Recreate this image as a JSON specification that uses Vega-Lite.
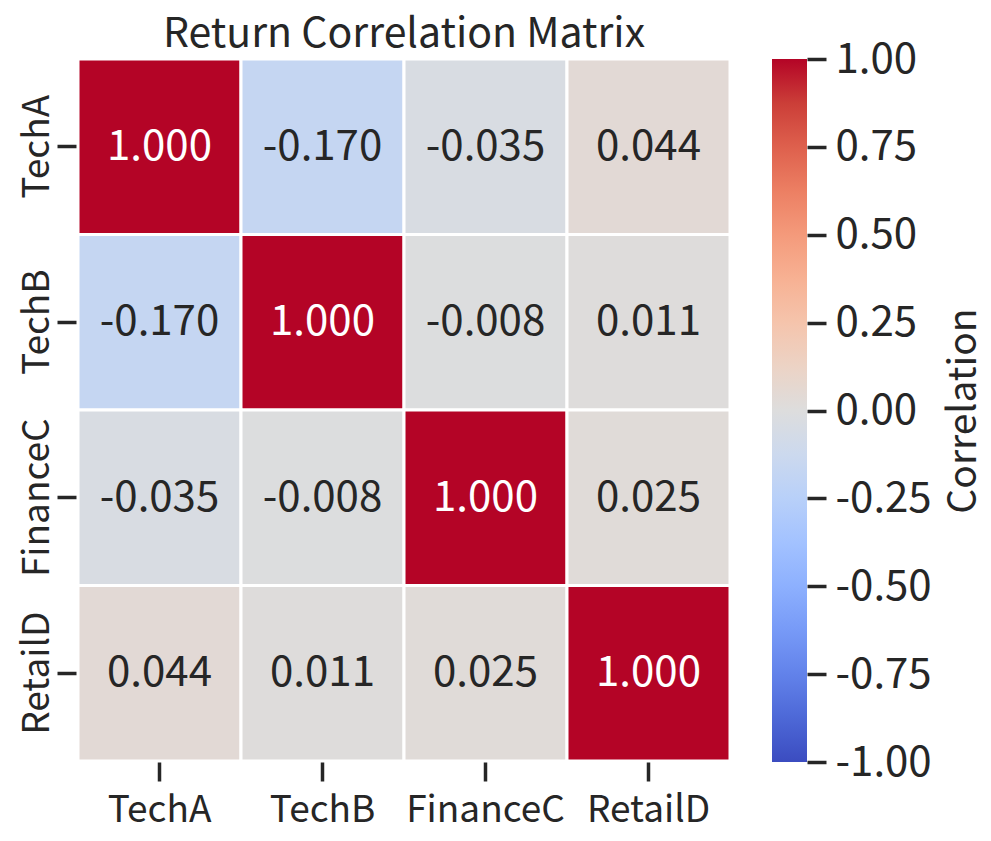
{
  "$schema": "https://vega.github.io/schema/vega-lite/v6.json",
  "background": "white",
  "padding": {"left": 17, "top": 13, "right": 5, "bottom": 5},
  "config": {
    "locale": {"number": {"decimal": ".", "thousands": ",", "grouping": [3], "currency": ["$", ""], "minus": "-"}},
    "font": "Noto Sans CJK KR",
    "view": {"stroke": null},
    "concat": {"spacing": 42},
    "axis": {
      "domain": false,
      "grid": false,
      "tickColor": "#262626",
      "tickWidth": 3.5,
      "tickSize": 19,
      "labelColor": "#262626",
      "labelFontSize": 37,
      "labelFont": "Noto Sans CJK KR",
      "titleColor": "#262626",
      "titleFontSize": 39,
      "titleFontWeight": "normal",
      "titleFont": "Noto Sans CJK KR"
    },
    "title": {"color": "#262626", "fontSize": 41, "fontWeight": "normal", "font": "Noto Sans CJK KR"}
  },
  "datasets": {
    "corr": [
      {"row": "TechA", "col": "TechA", "corr": 1.0},
      {"row": "TechA", "col": "TechB", "corr": -0.170},
      {"row": "TechA", "col": "FinanceC", "corr": -0.035},
      {"row": "TechA", "col": "RetailD", "corr": 0.044},
      {"row": "TechB", "col": "TechA", "corr": -0.170},
      {"row": "TechB", "col": "TechB", "corr": 1.0},
      {"row": "TechB", "col": "FinanceC", "corr": -0.008},
      {"row": "TechB", "col": "RetailD", "corr": 0.011},
      {"row": "FinanceC", "col": "TechA", "corr": -0.035},
      {"row": "FinanceC", "col": "TechB", "corr": -0.008},
      {"row": "FinanceC", "col": "FinanceC", "corr": 1.0},
      {"row": "FinanceC", "col": "RetailD", "corr": 0.025},
      {"row": "RetailD", "col": "TechA", "corr": 0.044},
      {"row": "RetailD", "col": "TechB", "corr": 0.011},
      {"row": "RetailD", "col": "FinanceC", "corr": 0.025},
      {"row": "RetailD", "col": "RetailD", "corr": 1.0}
    ],
    "bar": [{"lo": -1, "hi": 1}]
  },
  "bounds": "flush",
  "hconcat": [
    {
      "width": 652,
      "height": 702,
      "title": {"text": "Return Correlation Matrix", "anchor": "middle", "offset": 2},
      "data": {"name": "corr"},
      "encoding": {
        "x": {
          "field": "col", "type": "nominal",
          "sort": ["TechA", "TechB", "FinanceC", "RetailD"],
          "scale": {"paddingInner": 0, "paddingOuter": 0},
          "axis": {"title": null, "labelAngle": 0, "offset": 1, "labelPadding": 40, "labelBaseline": "alphabetic"}
        },
        "y": {
          "field": "row", "type": "nominal",
          "sort": ["TechA", "TechB", "FinanceC", "RetailD"],
          "scale": {"paddingInner": 0, "paddingOuter": 0},
          "axis": {"title": null, "labelAngle": 270, "labelAlign": "center", "labelBaseline": "alphabetic", "offset": 2, "labelPadding": 9}
        }
      },
      "layer": [
        {
          "mark": {"type": "rect", "stroke": "white", "strokeWidth": 3},
          "encoding": {
            "color": {
              "field": "corr", "type": "quantitative", "legend": null,
              "scale": {
                "domain": [-1, -0.875, -0.75, -0.625, -0.5, -0.375, -0.25, -0.125, 0, 0.125, 0.25, 0.375, 0.5, 0.625, 0.75, 0.875, 1],
                "range": ["#3b4cc0", "#4d68d7", "#6282ea", "#779af7", "#8db0fe", "#a3c2ff", "#b8d0f9", "#ccd9ee", "#dddddd", "#ecd3c5", "#f5c4ac", "#f7b193", "#f49a7b", "#ec7f63", "#de604d", "#cb3e38", "#b40426"],
                "interpolate": "rgb"
              }
            }
          }
        },
        {
          "mark": {"type": "text", "fontSize": 42, "font": "Noto Sans CJK KR"},
          "encoding": {
            "text": {"field": "corr", "type": "quantitative", "format": ".3f"},
            "color": {"condition": {"test": "datum.corr > 0.5", "value": "white"}, "value": "#262626"}
          }
        }
      ]
    },
    {
      "width": 35,
      "height": 703,
      "data": {"name": "bar"},
      "mark": {
        "type": "rect",
        "color": {
          "gradient": "linear", "x1": 0, "y1": 1, "x2": 0, "y2": 0,
          "stops": [
            {"offset": 0, "color": "#3b4cc0"},
            {"offset": 0.0625, "color": "#4d68d7"},
            {"offset": 0.125, "color": "#6282ea"},
            {"offset": 0.1875, "color": "#779af7"},
            {"offset": 0.25, "color": "#8db0fe"},
            {"offset": 0.3125, "color": "#a3c2ff"},
            {"offset": 0.375, "color": "#b8d0f9"},
            {"offset": 0.4375, "color": "#ccd9ee"},
            {"offset": 0.5, "color": "#dddddd"},
            {"offset": 0.5625, "color": "#ecd3c5"},
            {"offset": 0.625, "color": "#f5c4ac"},
            {"offset": 0.6875, "color": "#f7b193"},
            {"offset": 0.75, "color": "#f49a7b"},
            {"offset": 0.8125, "color": "#ec7f63"},
            {"offset": 0.875, "color": "#de604d"},
            {"offset": 0.9375, "color": "#cb3e38"},
            {"offset": 1, "color": "#b40426"}
          ]
        }
      },
      "encoding": {
        "y": {
          "field": "lo", "type": "quantitative",
          "scale": {"domain": [-1, 1], "nice": false, "zero": false},
          "axis": {
            "orient": "right", "title": "Correlation",
            "values": [-1, -0.75, -0.5, -0.25, 0, 0.25, 0.5, 0.75, 1],
            "format": ".2f", "labelPadding": 9, "labelBaseline": "middle", "labelFontSize": 42,
            "titleAngle": 270, "titleBaseline": "top", "titlePadding": 13
          }
        },
        "y2": {"field": "hi"}
      }
    }
  ]
}
